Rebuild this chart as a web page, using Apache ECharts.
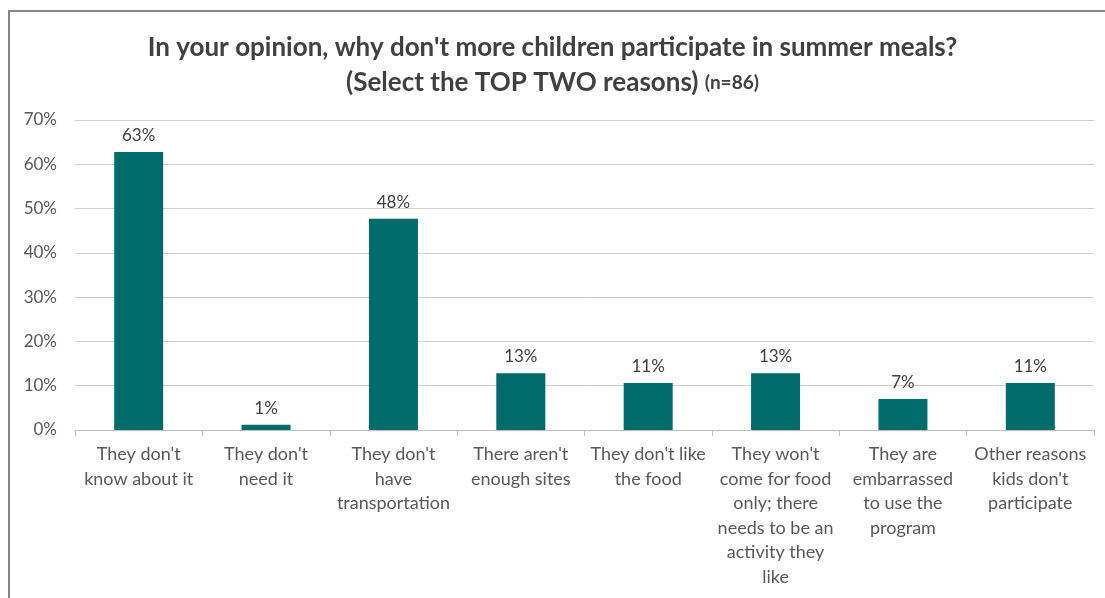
<!DOCTYPE html>
<html>
<head>
<meta charset="utf-8">
<script src="https://cdn.jsdelivr.net/npm/echarts@6/dist/echarts.min.js"></script>
<style>
  html, body { margin: 0; padding: 0; background: #fff; }
  #chart { width: 1105px; height: 598px; }
</style>
</head>
<body>
<div id="chart"></div>
<script>
const categories = [
  "They don't\nknow about it",
  "They don't\nneed it",
  "They don't\nhave\ntransportation",
  "There aren't\nenough sites",
  "They don't like\nthe food",
  "They won't\ncome for food\nonly; there\nneeds to be an\nactivity they\nlike",
  "They are\nembarrassed\nto use the\nprogram",
  "Other reasons\nkids don't\nparticipate"
];
// share of respondents (n=86), percent
const shares = [62.8, 1.2, 47.7, 12.8, 10.6, 12.8, 7.0, 10.6];
const yTicks = { min: 0, max: 70, step: 10 };

const chart = echarts.init(document.getElementById('chart'));
const font = 'Lato, "Open Sans", sans-serif';

chart.setOption({
  backgroundColor: '#fff',
  animation: false,
  title: {
    text: "In your opinion, why don't more children participate in summer meals?\n{big|(Select the TOP TWO reasons)} {small|(n=86)}",
    left: 'center',
    top: 25,
    textStyle: {
      fontFamily: font,
      fontSize: 26,
      fontWeight: 'bold',
      color: '#404040',
      lineHeight: 35,
      rich: {
        big: { fontFamily: font, fontSize: 26, fontWeight: 'bold', color: '#404040', lineHeight: 35 },
        small: { fontFamily: font, fontSize: 19, fontWeight: 'bold', color: '#404040', lineHeight: 35 }
      }
    }
  },
  graphic: [
    {
      type: 'polyline',
      shape: { points: [[9, 598], [9, 11], [1105, 11]] },
      style: { stroke: '#868686', lineWidth: 2, fill: null },
      silent: true
    }
  ],
  grid: { left: 75, right: 11, top: 120, bottom: 168, containLabel: false },
  xAxis: {
    type: 'category',
    data: categories,
    axisLine: { lineStyle: { color: '#bfbfbf', width: 1 } },
    axisTick: { show: true, length: 6, lineStyle: { color: '#bfbfbf' } },
    axisLabel: {
      interval: 0,
      margin: 12,
      fontFamily: font,
      fontSize: 18,
      lineHeight: 24.5,
      color: '#595959',
      align: 'center'
    }
  },
  yAxis: {
    type: 'value',
    min: yTicks.min,
    max: yTicks.max,
    interval: yTicks.step,
    axisLine: { show: false },
    axisTick: { show: false },
    splitLine: { lineStyle: { color: '#d0d0d0', width: 1 } },
    axisLabel: {
      margin: 18,
      fontFamily: font,
      fontSize: 17,
      color: '#595959',
      formatter: v => v + '%'
    }
  },
  series: [{
    type: 'bar',
    data: shares,
    barWidth: 49,
    itemStyle: { color: '#006B6B' },
    label: {
      show: true,
      position: 'top',
      distance: 8,
      fontFamily: font,
      fontSize: 17,
      color: '#404040',
      formatter: p => Math.round(p.value) + '%'
    }
  }]
});
</script>
</body>
</html>
